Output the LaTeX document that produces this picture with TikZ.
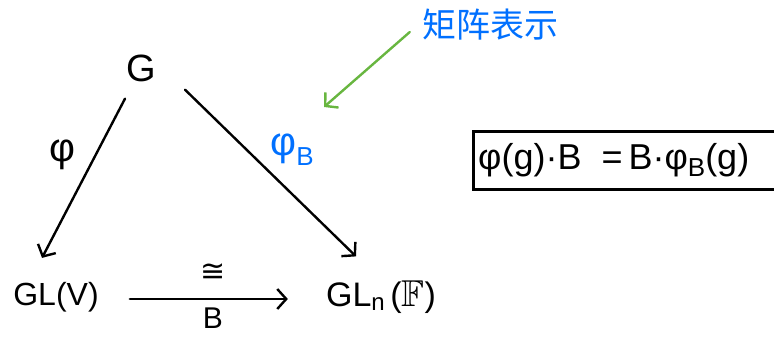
\documentclass[tikz,border=0pt]{standalone}
\usepackage{fontspec}
\usepackage{amssymb}
\setmainfont{Liberation Sans}
\newfontfamily\cjk{Noto Sans CJK SC}
\newfontfamily\dejavu{DejaVu Sans}
\usetikzlibrary{arrows.meta}
\definecolor{inkblue}{RGB}{0,112,255}
\definecolor{inkgreen}{RGB}{104,182,64}
\tikzset{
  lab/.style={inner sep=0pt, font=\fontsize{32}{32}\selectfont},
  arr/.style={line width=2.4pt, line cap=round, -{Straight Barb[length=9pt,width=20pt,line width=2.4pt]}},
}
\begin{document}
\begin{tikzpicture}[x=1pt,y=-1pt]
\useasboundingbox (0,0) rectangle (774,337);
\clip (0,0) rectangle (774,337);
\node[lab, font=\fontsize{38}{38}\selectfont] (G) at (141,68) {G};
\node[lab] (GLV) at (56,297) {GL(V)};
\node[lab, font=\fontsize{34}{34}\selectfont] (GLn) at (381,297) {GL\raisebox{-4pt}{\fontsize{24}{24}\selectfont n}\,(\scalebox{1.1}{$\mathbb{F}$})};
\node[lab, font=\fontsize{40}{40}\selectfont] (phi) at (62,155) {φ};
\node[lab, text=inkblue, font=\fontsize{40}{40}\selectfont] (phiB) at (292,150) {φ\raisebox{-10pt}{\fontsize{26}{26}\selectfont B}};
\node[lab, font=\dejavu\fontsize{30}{30}\selectfont] (iso) at (213,273) {≅};
\node[lab, font=\fontsize{30}{30}\selectfont] (Blab) at (213,318) {B};
\node[inner sep=0pt, text=inkblue, font=\cjk\fontsize{34}{34}\selectfont] (mat) at (490,25) {矩阵表示};
\draw[arr] ([xshift=-16pt,yshift=-17pt]G.south) -- ([xshift=-14pt,yshift=24pt]GLV.north);
\draw[arr] ([xshift=29pt,yshift=-8pt]G.south east) -- ([xshift=-25pt,yshift=24pt]GLn.north);
\draw[arr] ([xshift=31pt,yshift=-2pt]GLV.east) -- ([xshift=-38pt,yshift=-2pt]GLn.west);
\draw[arr, inkgreen] ([xshift=-12pt,yshift=-7pt]mat.west) -- ([xshift=32pt,yshift=27pt]phiB.north);
\node[draw, line width=2.5pt, minimum height=58pt, minimum width=320pt, anchor=north west, inner sep=0pt] (box) at (472,130) {};
\node[lab, font=\fontsize{36}{36}\selectfont, anchor=west] (eq) at ([xshift=6pt]box.west) {φ(g)·B\ \ =\,B·φ\raisebox{-7pt}{\fontsize{26}{26}\selectfont B}(g)};
\end{tikzpicture}
\end{document}
